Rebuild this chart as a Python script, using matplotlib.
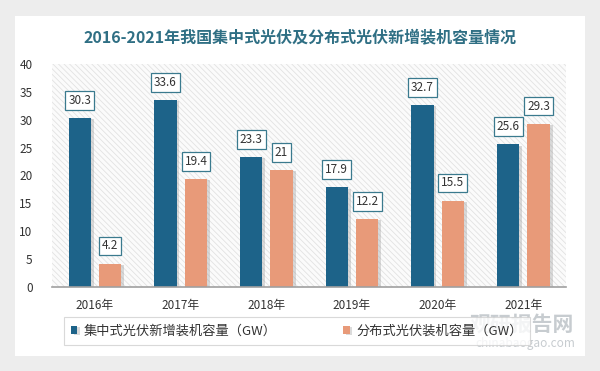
import numpy as np
import matplotlib
matplotlib.use('Agg')
import matplotlib.pyplot as plt
from matplotlib.patches import Rectangle
import matplotlib.patheffects as pe

plt.rcParams['font.family'] = ['Noto Sans CJK SC', 'DejaVu Sans']
plt.rcParams['hatch.linewidth'] = 0.6

# 数据
years = ['2016年', '2017年', '2018年', '2019年', '2020年', '2021年']
central = [30.3, 33.6, 23.3, 17.9, 32.7, 25.6]
distributed = [4.2, 19.4, 21, 12.2, 15.5, 29.3]
labels = ['集中式光伏新增装机容量（GW）', '分布式光伏装机容量（GW）']
title = '2016-2021年我国集中式光伏及分布式光伏新增装机容量情况'

c_blue = '#1d6389'
c_orange = '#e89a79'

fig = plt.figure(figsize=(6, 3.71), dpi=100)
fig.patch.set_facecolor('#ededed')

# 白色卡片
card = Rectangle((15/600, 1-356/371), 570/600, 340/371, transform=fig.transFigure,
                 facecolor='white', edgecolor='none', zorder=-10)
fig.patches.append(card)

ax = fig.add_axes([52/600, 1-287/371, 514/600, 223/371])
ax.set_facecolor('none')
bg = Rectangle((0, 0), 1, 1, transform=ax.transAxes, facecolor='#fbfbfb',
               edgecolor='#e2e2e2', hatch='\\\\\\\\\\\\', linewidth=0, zorder=0)
ax.add_patch(bg)

x = np.arange(len(years))
w = 0.26
shadow = [pe.SimplePatchShadow(offset=(2, -1), shadow_rgbFace='#888888', alpha=0.3), pe.Normal()]
b1 = ax.bar(x - 0.175, central, w, color=c_blue, label=labels[0], zorder=3, path_effects=shadow)
b2 = ax.bar(x + 0.18, distributed, w, color=c_orange, label=labels[1], zorder=3, path_effects=shadow)

box = dict(boxstyle='square,pad=0.25', facecolor='white', edgecolor='#3a7a8e', linewidth=0.9)
for xi, v in zip(x - 0.175, central):
    ax.annotate(f'{v:g}', (xi, v), xytext=(0, 8), textcoords='offset points', ha='center',
                va='bottom', fontsize=8.5, color='#333333', bbox=box, zorder=5)
for xi, v in zip(x + 0.18, distributed):
    ax.annotate(f'{v:g}', (xi, v), xytext=(0, 8), textcoords='offset points', ha='center',
                va='bottom', fontsize=8.5, color='#333333', bbox=box, zorder=5)

ax.set_xlim(-0.5, 5.5)
ax.set_ylim(0, 40)
ax.set_yticks(np.arange(0, 41, 5))
ax.set_xticks(x)
ax.set_xticklabels(years)
ax.tick_params(axis='both', length=0, labelsize=8.5, colors='#333333')
ax.tick_params(axis='x', pad=9)
ax.tick_params(axis='y', pad=14)
for s in ['top', 'right', 'left']:
    ax.spines[s].set_visible(False)
ax.spines['bottom'].set_color('#a0a0a0')
ax.spines['bottom'].set_linewidth(1.2)
ax.spines['bottom'].set_zorder(4)

fig.text(0.5, 1-37/371, title, ha='center', va='center', fontsize=11.5,
         fontweight='bold', color='#2f6f84')

leg = fig.legend(handles=[b1, b2], loc='center left', bbox_to_anchor=(57/600, 1-331/371),
                 ncol=2, fontsize=9.5, frameon=True, fancybox=False, handlelength=0.5,
                 handleheight=0.5, columnspacing=5, handletextpad=0.5, borderpad=0.55)
leg.get_frame().set_edgecolor('#d0d0d0')
leg.get_frame().set_linewidth(0.8)
for t in leg.get_texts():
    t.set_color('#333333')

# 水印
fig.text(574/600, 1-324/371, '观研报告网', ha='right', va='center', fontsize=15,
         fontweight='bold', color='#9aa3aa', alpha=0.55)
fig.text(575/600, 1-344/371, 'chinabaogao.com', ha='right', va='center', fontsize=8.5,
         color='#9aa3aa', alpha=0.55)

fig.savefig('out.png', dpi=100, facecolor=fig.get_facecolor())
